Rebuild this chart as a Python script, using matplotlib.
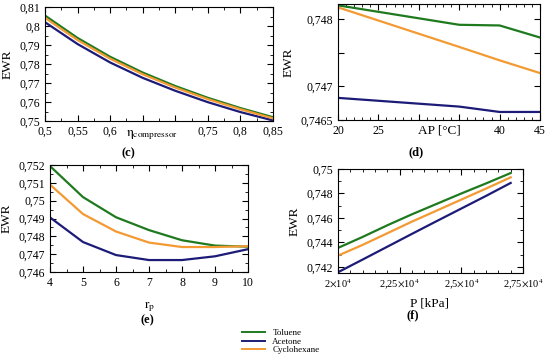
import matplotlib
matplotlib.use("Agg")
import matplotlib.pyplot as plt
from matplotlib.lines import Line2D
from matplotlib.ticker import MultipleLocator, FuncFormatter

plt.rcParams["font.family"] = ["Liberation Serif", "DejaVu Serif"]
plt.rcParams["mathtext.fontset"] = "stix"
plt.rcParams["font.size"] = 8.5

# fluids
names = ["Toluene", "Acetone", "Cyclohexane"]
colors = ["#1f7a1f", "#1c1c78", "#f39a33"]

# (c) compressor efficiency
eta = [0.5, 0.55, 0.6, 0.65, 0.7, 0.75, 0.8, 0.85]
c_toluene = [0.8055, 0.7937, 0.7838, 0.7755, 0.7684, 0.7622, 0.7568, 0.7520]
c_acetone = [0.8020, 0.7905, 0.7808, 0.7727, 0.7659, 0.7599, 0.7547, 0.7503]
c_cyclohexane = [0.8043, 0.7926, 0.7828, 0.7746, 0.7676, 0.7615, 0.7562, 0.7514]

# (d) approach point
ap = [20, 35, 40, 45]
d_toluene = [0.74821, 0.74792, 0.74791, 0.74773]
d_acetone = [0.74683, 0.74670, 0.74662, 0.74662]
d_cyclohexane = [0.74818, 0.74759, 0.74739, 0.74720]

# (e) pressure ratio
rp = [4, 5, 6, 7, 8, 9, 10]
e_toluene = [0.75194, 0.75020, 0.74907, 0.74835, 0.74778, 0.74748, 0.74742]
e_acetone = [0.74906, 0.74768, 0.74695, 0.74667, 0.74667, 0.74688, 0.74728]
e_cyclohexane = [0.75090, 0.74925, 0.74827, 0.74765, 0.74740, 0.74740, 0.74745]

# (f) pressure
p = [20000, 21000, 22000, 23000, 24000, 25000, 26000, 27000]
f_toluene = [0.74355, 0.74445, 0.74540, 0.74630, 0.74715, 0.74800, 0.74882, 0.74967]
f_acetone = [0.74156, 0.74260, 0.74365, 0.74470, 0.74574, 0.74677, 0.74780, 0.74886]
f_cyclohexane = [0.74292, 0.74380, 0.74475, 0.74570, 0.74660, 0.74750, 0.74840, 0.74932]

W, H = 550, 356


def box(l, t, r, b):
    return [l / W, 1 - b / H, (r - l) / W, (b - t) / H]


def comma(v, _=None):
    s = f"{v:.4f}".rstrip("0").rstrip(".")
    return s.replace(".", ",")


def style(ax):
    ax.tick_params(which="both", direction="in", top=True, right=True, labelsize=8.5)
    ax.tick_params(which="major", length=4)
    ax.tick_params(which="minor", length=2)
    for s in ax.spines.values():
        s.set_linewidth(0.8)


fig = plt.figure(figsize=(W / 100, H / 100), dpi=100)

# (c)
ax = fig.add_axes(box(45, 7, 273, 121))
for ys, col in zip([c_toluene, c_acetone, c_cyclohexane], colors):
    ax.plot(eta, ys, color=col, lw=1.6)
ax.set_xlim(0.5, 0.85)
ax.set_ylim(0.75, 0.81)
ax.xaxis.set_major_locator(MultipleLocator(0.05))
ax.xaxis.set_minor_locator(MultipleLocator(0.025))
ax.yaxis.set_major_locator(MultipleLocator(0.01))
ax.yaxis.set_minor_locator(MultipleLocator(0.005))
ax.xaxis.set_major_formatter(FuncFormatter(lambda v, _: "" if 0.62 < v < 0.72 else comma(v)))
ax.yaxis.set_major_formatter(FuncFormatter(comma))
style(ax)
ax.set_xlabel(r"$\mathrm{\eta_{compressor}}$", fontsize=9.5)
ax.xaxis.set_label_coords(0.47, -0.06)
ax.set_ylabel("EWR", fontsize=9.5)

# (d)
ax = fig.add_axes(box(338, 4, 540, 120))
for ys, col in zip([d_toluene, d_acetone, d_cyclohexane], colors):
    ax.plot(ap, ys, color=col, lw=1.6)
ax.set_xlim(20, 45)
ax.set_ylim(0.7465, 0.74823)
ax.xaxis.set_major_locator(MultipleLocator(5))
ax.xaxis.set_minor_locator(MultipleLocator(1))
ax.yaxis.set_major_locator(MultipleLocator(0.0005))
ax.xaxis.set_major_formatter(FuncFormatter(lambda v, _: "" if 27 < v < 38 else f"{v:.0f}"))
ax.yaxis.set_major_formatter(FuncFormatter(lambda v, _: "" if abs(v - 0.7475) < 1e-6 else comma(v)))
style(ax)
ax.set_xlabel("AP [°C]", fontsize=9.5)
ax.xaxis.set_label_coords(0.5, -0.04)
ax.set_ylabel("EWR", fontsize=9.5)

# (e)
ax = fig.add_axes(box(50, 165, 248, 272))
for ys, col in zip([e_toluene, e_acetone, e_cyclohexane], colors):
    ax.plot(rp, ys, color=col, lw=1.6)
ax.set_xlim(4, 10)
ax.set_ylim(0.746, 0.752)
ax.xaxis.set_major_locator(MultipleLocator(1))
ax.xaxis.set_minor_locator(MultipleLocator(0.5))
ax.yaxis.set_major_locator(MultipleLocator(0.001))
ax.yaxis.set_minor_locator(MultipleLocator(0.0005))
ax.yaxis.set_major_formatter(FuncFormatter(comma))
style(ax)
ax.set_xlabel(r"$\mathrm{r_p}$", fontsize=9.5)
ax.xaxis.set_label_coords(0.505, -0.26)
ax.set_ylabel("EWR", fontsize=9.5)

# (f)
ax = fig.add_axes(box(338, 169, 523, 273))
for ys, col in zip([f_toluene, f_acetone, f_cyclohexane], colors):
    ax.plot(p, ys, color=col, lw=1.6)
ax.set_xlim(20000, 27500)
ax.set_ylim(0.7415, 0.75)
ax.xaxis.set_major_locator(MultipleLocator(2500))
ax.xaxis.set_minor_locator(MultipleLocator(500))
ax.yaxis.set_major_locator(MultipleLocator(0.002))
ax.yaxis.set_minor_locator(MultipleLocator(0.001))
ax.xaxis.set_major_formatter(FuncFormatter(lambda v, _: comma(v / 1e4) + r"$\times$10$^4$"))
ax.yaxis.set_major_formatter(FuncFormatter(comma))
style(ax)
ax.tick_params(axis="x", labelsize=7.5)
ax.set_xlabel("P [kPa]", fontsize=9.5)
ax.xaxis.set_label_coords(0.497, -0.24)
ax.set_ylabel("EWR", fontsize=9.5)

# panel letters
for lab, (x, y) in zip(["(c)", "(d)", "(e)", "(f)"], [(128, 153), (416, 152), (147, 320), (413, 315)]):
    fig.text(x / W, 1 - y / H, lab, ha="center", va="center", fontsize=9, fontweight="bold")

handles = [Line2D([], [], color=c, lw=1.4) for c in colors]
fig.legend(handles, names, loc="upper left", bbox_to_anchor=(238 / W, 1 - 325 / H),
           frameon=False, fontsize=6.5, handlelength=2.6, labelspacing=0.05,
           handletextpad=0.8, borderaxespad=0)

fig.savefig("out.png", dpi=100)
